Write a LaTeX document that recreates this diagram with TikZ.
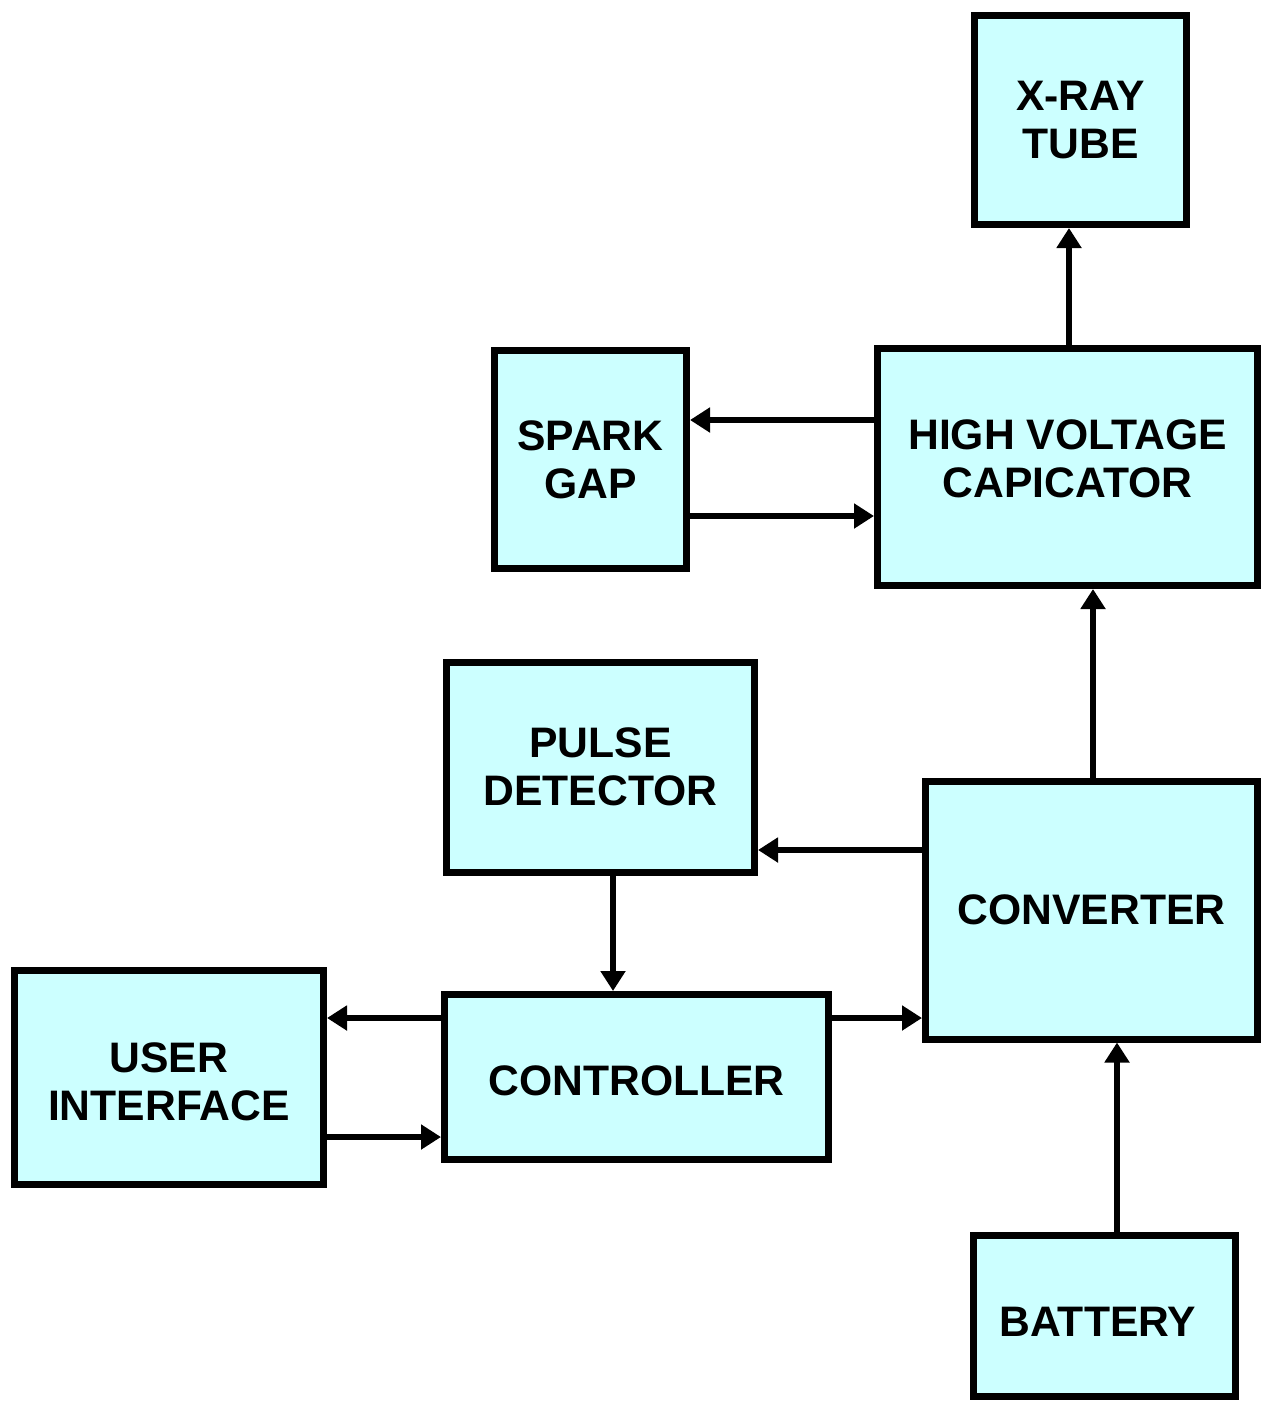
\documentclass[tikz,border=0pt]{standalone}
\usepackage{fontspec}
\setmainfont{Liberation Sans}
\usetikzlibrary{arrows.meta}
\definecolor{boxfill}{HTML}{CCFFFF}
\tikzset{
  blktext/.style={align=center, inner sep=0pt, font=\fontsize{32}{36}\selectfont\bfseries},
  blk/.style={draw=black, fill=boxfill, line width=5.25pt, inner sep=0pt, blktext},
  arr/.style={line width=4.5pt, -{Triangle[length=15pt,width=18pt]}}
}
\begin{document}
\begin{tikzpicture}[x=0.75pt,y=-0.75pt]
\useasboundingbox (0,0) rectangle (1264,1403);
\node[blk, minimum width=212*0.75pt, minimum height=209*0.75pt] (xray) at (1080.5,120) {X-RAY\\TUBE};
\node[blk, minimum width=192*0.75pt, minimum height=218*0.75pt] (spark) at (590.5,459.5) {SPARK\\GAP};
\node[blk, minimum width=380*0.75pt, minimum height=237*0.75pt,
  label={[blktext, yshift=6pt]center:HIGH VOLTAGE\\CAPICATOR}] (hv) at (1067.5,467) {};
\node[blk, minimum width=308*0.75pt, minimum height=210*0.75pt] (pulse) at (600.5,767) {PULSE\\DETECTOR};
\node[blk, minimum width=332*0.75pt, minimum height=258*0.75pt] (conv) at (1091.5,910) {CONVERTER};
\node[blk, minimum width=309*0.75pt, minimum height=214*0.75pt,
  label={[blktext, yshift=-3pt]center:USER\\INTERFACE}] (ui) at (169,1077.5) {};
\node[blk, minimum width=384*0.75pt, minimum height=165*0.75pt,
  label={[blktext, yshift=-3pt]center:CONTROLLER}] (ctrl) at (636.5,1077) {};
\node[blk, minimum width=262*0.75pt, minimum height=161*0.75pt,
  label={[blktext, xshift=-5pt, yshift=-4pt]center:BATTERY}] (batt) at (1104.5,1316) {};

\draw[arr] (1069,0 |- hv.north) -- (1069,0 |- xray.south);
\draw[arr] (hv.west |- 0,420) -- (spark.east |- 0,420);
\draw[arr] (spark.east |- 0,516) -- (hv.west |- 0,516);
\draw[arr] (1093,0 |- conv.north) -- (1093,0 |- hv.south);
\draw[arr] (conv.west |- 0,850) -- (pulse.east |- 0,850);
\draw[arr] (613,0 |- pulse.south) -- (613,0 |- ctrl.north);
\draw[arr] (ctrl.west |- 0,1018) -- (ui.east |- 0,1018);
\draw[arr] (ui.east |- 0,1137) -- (ctrl.west |- 0,1137);
\draw[arr] (ctrl.east |- 0,1018) -- (conv.west |- 0,1018);
\draw[arr] (1117,0 |- batt.north) -- (1117,0 |- conv.south);
\end{tikzpicture}
\end{document}
